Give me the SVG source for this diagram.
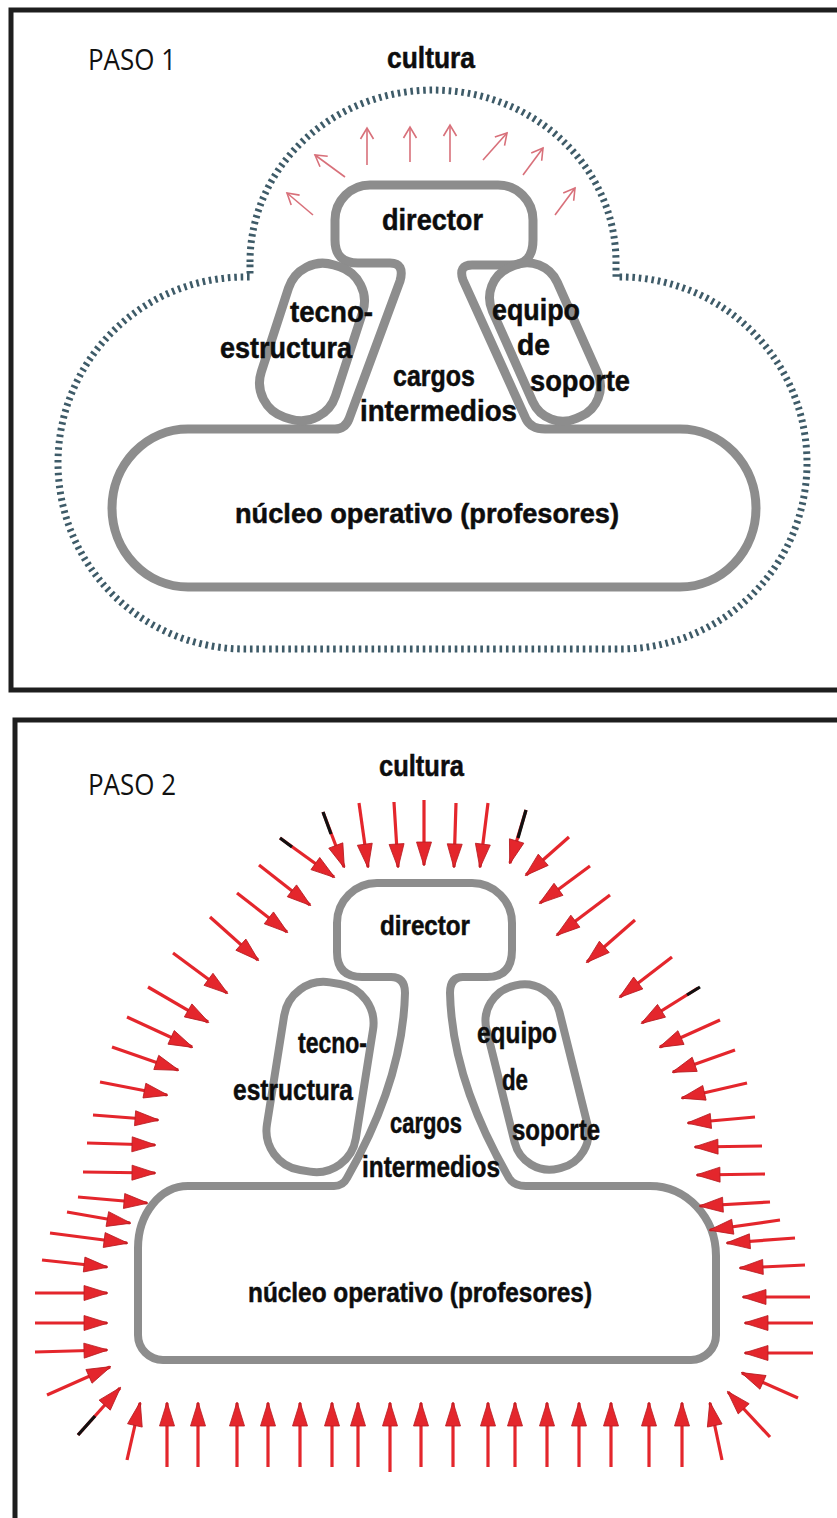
<svg xmlns="http://www.w3.org/2000/svg" width="837" height="1518" viewBox="0 0 837 1518">
<defs>
<style>
.frame{fill:none;stroke:#1e1e1e;stroke-width:5}
.shape{fill:none;stroke:#8d8d8d;stroke-width:9;stroke-linejoin:round}
.shape2{fill:none;stroke:#8d8d8d;stroke-width:8;stroke-linejoin:round}
.cloud{fill:none;stroke:#3e5b68;stroke-width:7;stroke-dasharray:2.6 3.8}
.lbl{font-family:"Liberation Sans",Arial,sans-serif;font-weight:700;fill:#0d0d0d;stroke:#0d0d0d;stroke-width:0.5}
.paso{font-family:"Open Sans","Liberation Sans",Arial,sans-serif;font-weight:400;fill:#111}
.a1{stroke:#d8707a;stroke-width:1.6;fill:none;marker-end:url(#open)}
.a2{stroke:#e4262c;stroke-width:3.2;fill:none;marker-end:url(#solid)}
.tail{stroke:#111;stroke-width:3.2;fill:none}
</style>
<marker id="open" markerUnits="userSpaceOnUse" markerWidth="14" markerHeight="16" viewBox="0 0 14 16" refX="12" refY="8" orient="auto">
<path d="M1,1.5 L12,8 L1,14.5" fill="none" stroke="#d8707a" stroke-width="1.6"/>
</marker>
<marker id="solid" markerUnits="userSpaceOnUse" markerWidth="26" markerHeight="18" viewBox="0 0 26 18" refX="24" refY="9" orient="auto">
<path d="M1,1.5 L25,9 L1,16.5 Z" fill="#e4262c" stroke="#b71c22" stroke-width="0.8"/>
</marker>
</defs>
<rect width="837" height="1518" fill="#ffffff"/>

<!-- PASO 1 -->
<g id="panel1">
<rect class="frame" x="11" y="10" width="840" height="680"/>
<text class="paso" x="88" y="70" font-size="30" textLength="88" lengthAdjust="spacingAndGlyphs">PASO 1</text>
</g>
<g id="p1-cultura">
<path class="cloud" d="M250,262 A183,172 0 0 1 616,262 V277 A187,186 0 0 1 807,463 A187,186 0 0 1 620,649 H245 A187,186 0 0 1 58,463 A187,186 0 0 1 245,277 H250 Z"/>
<text class="lbl" x="387" y="68" font-size="30" textLength="88" lengthAdjust="spacingAndGlyphs">cultura</text>
</g>
<g id="p1-core">
<path class="shape" d="M370,185 H498 A35,35 0 0 1 533,220 V240 Q533,265 510,265 H472 Q458,265 463,280 L526,419 Q531,429 545,429 H680 A76,79 0 0 1 680,587 H188 A76,79 0 0 1 188,429 H335 Q345,429 349,419 L400,281 Q405,263 390,263 H358 Q335,263 335,240 V220 A35,35 0 0 1 370,185 Z"/>
</g>
<g id="p1-director">
<text class="lbl" x="382" y="230" font-size="30" textLength="101" lengthAdjust="spacingAndGlyphs">director</text>
</g>
<g id="p1-tecno">
<rect class="shape" x="273" y="262" width="78" height="160" rx="36" transform="rotate(18 312 342)"/>
<text class="lbl" x="290" y="322" font-size="30" textLength="83" lengthAdjust="spacingAndGlyphs">tecno-</text>
<text class="lbl" x="220" y="358" font-size="30" textLength="132" lengthAdjust="spacingAndGlyphs">estructura</text>
</g>
<g id="p1-equipo">
<rect class="shape" x="509.5" y="259.5" width="71" height="165" rx="33" transform="rotate(-24 545 342)"/>
<text class="lbl" x="492" y="320" font-size="30" textLength="88" lengthAdjust="spacingAndGlyphs">equipo</text>
<text class="lbl" x="517" y="355" font-size="30" textLength="33" lengthAdjust="spacingAndGlyphs">de</text>
<text class="lbl" x="530" y="391" font-size="30" textLength="100" lengthAdjust="spacingAndGlyphs">soporte</text>
</g>
<g id="p1-cargos">
<text class="lbl" x="393" y="386" font-size="30" textLength="82" lengthAdjust="spacingAndGlyphs">cargos</text>
<text class="lbl" x="360" y="421" font-size="30" textLength="157" lengthAdjust="spacingAndGlyphs">intermedios</text>
</g>
<g id="p1-nucleo">
<text class="lbl" x="235" y="523" font-size="28" textLength="384" lengthAdjust="spacingAndGlyphs">núcleo operativo (profesores)</text>
</g>

<!-- PASO 2 -->
<g id="panel2">
<rect class="frame" x="15" y="720" width="840" height="820"/>
<text class="paso" x="88" y="795" font-size="30" textLength="88" lengthAdjust="spacingAndGlyphs">PASO 2</text>
</g>
<g id="p2-cultura">
<text class="lbl" x="379" y="776" font-size="29" textLength="85" lengthAdjust="spacingAndGlyphs">cultura</text>
</g>
<g id="p2-core">
<path class="shape2" d="M377,883 H472 A40,40 0 0 1 512,923 V950 Q512,977 487,977 H463 Q450,977 450,993 Q452,1080 509,1178 Q514,1186 526,1186 H650 A66,70 0 0 1 716,1256 V1335 A25,25 0 0 1 691,1360 H163 A25,25 0 0 1 138,1335 V1248 A50,62 0 0 1 188,1186 H334 Q343,1186 347,1178 Q403,1080 405,993 Q405,977 391,977 H362 Q337,977 337,952 V923 A40,40 0 0 1 377,883 Z"/>
</g>
<g id="p2-director">
<text class="lbl" x="380" y="935" font-size="28" textLength="90" lengthAdjust="spacingAndGlyphs">director</text>
</g>
<g id="p2-tecno">
<rect class="shape2" x="275" y="982" width="90" height="190" rx="40" transform="rotate(9 320 1077)"/>
<text class="lbl" x="298" y="1053" font-size="29" textLength="69" lengthAdjust="spacingAndGlyphs">tecno-</text>
<text class="lbl" x="233" y="1100" font-size="29" textLength="120" lengthAdjust="spacingAndGlyphs">estructura</text>
</g>
<g id="p2-equipo">
<rect class="shape2" x="499.5" y="983" width="75" height="188" rx="36" transform="rotate(-14 537 1077)"/>
<text class="lbl" x="477" y="1043" font-size="29" textLength="80" lengthAdjust="spacingAndGlyphs">equipo</text>
<text class="lbl" x="502" y="1090" font-size="29" textLength="26" lengthAdjust="spacingAndGlyphs">de</text>
<text class="lbl" x="512" y="1140" font-size="29" textLength="88" lengthAdjust="spacingAndGlyphs">soporte</text>
</g>
<g id="p2-cargos">
<text class="lbl" x="390" y="1133" font-size="29" textLength="72" lengthAdjust="spacingAndGlyphs">cargos</text>
<text class="lbl" x="362" y="1177" font-size="29" textLength="138" lengthAdjust="spacingAndGlyphs">intermedios</text>
</g>
<g id="p2-nucleo">
<text class="lbl" x="248" y="1302" font-size="27" textLength="344" lengthAdjust="spacingAndGlyphs">núcleo operativo (profesores)</text>
</g>

<g id="connectors">
<g id="arrows-paso1">
<line class="a1" x1="313" y1="215" x2="287" y2="193"/>
<line class="a1" x1="345" y1="177" x2="315" y2="155"/>
<line class="a1" x1="367" y1="165" x2="367" y2="128"/>
<line class="a1" x1="410" y1="162" x2="410" y2="127"/>
<line class="a1" x1="450" y1="162" x2="450" y2="125"/>
<line class="a1" x1="483" y1="160" x2="507" y2="133"/>
<line class="a1" x1="523" y1="175" x2="543" y2="148"/>
<line class="a1" x1="555" y1="215" x2="575" y2="188"/>
</g>
<g id="arrows-paso2">
<line class="a2" x1="323" y1="812" x2="344" y2="867"/>
<line class="a2" x1="359" y1="803" x2="368" y2="867"/>
<line class="a2" x1="394" y1="802" x2="398" y2="867"/>
<line class="a2" x1="424" y1="800" x2="424" y2="865"/>
<line class="a2" x1="456" y1="803" x2="454" y2="867"/>
<line class="a2" x1="488" y1="803" x2="480" y2="867"/>
<line class="a2" x1="526" y1="810" x2="510" y2="863"/>
<line class="a2" x1="280" y1="838" x2="334" y2="877"/>
<line class="a2" x1="259" y1="865" x2="310" y2="905"/>
<line class="a2" x1="237" y1="893" x2="287" y2="932"/>
<line class="a2" x1="210" y1="917" x2="258" y2="960"/>
<line class="a2" x1="173" y1="953" x2="227" y2="993"/>
<line class="a2" x1="148" y1="987" x2="208" y2="1022"/>
<line class="a2" x1="127" y1="1017" x2="192" y2="1047"/>
<line class="a2" x1="112" y1="1047" x2="178" y2="1070"/>
<line class="a2" x1="100" y1="1082" x2="167" y2="1095"/>
<line class="a2" x1="93" y1="1115" x2="158" y2="1120"/>
<line class="a2" x1="87" y1="1143" x2="155" y2="1145"/>
<line class="a2" x1="83" y1="1172" x2="155" y2="1173"/>
<line class="a2" x1="78" y1="1197" x2="147" y2="1203"/>
<line class="a2" x1="67" y1="1212" x2="130" y2="1223"/>
<line class="a2" x1="50" y1="1233" x2="127" y2="1243"/>
<line class="a2" x1="42" y1="1260" x2="107" y2="1267"/>
<line class="a2" x1="35" y1="1293" x2="107" y2="1293"/>
<line class="a2" x1="35" y1="1323" x2="107" y2="1323"/>
<line class="a2" x1="35" y1="1352" x2="107" y2="1350"/>
<line class="a2" x1="47" y1="1395" x2="110" y2="1367"/>
<line class="a2" x1="78" y1="1435" x2="120" y2="1388"/>
<line class="a2" x1="569" y1="837" x2="526" y2="875"/>
<line class="a2" x1="590" y1="866" x2="540" y2="903"/>
<line class="a2" x1="610" y1="895" x2="557" y2="935"/>
<line class="a2" x1="635" y1="920" x2="587" y2="962"/>
<line class="a2" x1="672" y1="957" x2="620" y2="997"/>
<line class="a2" x1="698" y1="988" x2="642" y2="1023"/>
<line class="a2" x1="720" y1="1020" x2="660" y2="1047"/>
<line class="a2" x1="735" y1="1050" x2="673" y2="1072"/>
<line class="a2" x1="747" y1="1083" x2="682" y2="1098"/>
<line class="a2" x1="755" y1="1117" x2="688" y2="1123"/>
<line class="a2" x1="762" y1="1146" x2="695" y2="1147"/>
<line class="a2" x1="765" y1="1174" x2="697" y2="1175"/>
<line class="a2" x1="770" y1="1202" x2="700" y2="1206"/>
<line class="a2" x1="780" y1="1220" x2="710" y2="1230"/>
<line class="a2" x1="795" y1="1238" x2="727" y2="1243"/>
<line class="a2" x1="805" y1="1265" x2="740" y2="1268"/>
<line class="a2" x1="810" y1="1297" x2="743" y2="1297"/>
<line class="a2" x1="813" y1="1323" x2="745" y2="1323"/>
<line class="a2" x1="813" y1="1353" x2="745" y2="1353"/>
<line class="a2" x1="798" y1="1398" x2="742" y2="1373"/>
<line class="a2" x1="770" y1="1437" x2="728" y2="1392"/>
<line class="a2" x1="127" y1="1460" x2="140" y2="1403"/>
<line class="a2" x1="167" y1="1467" x2="167" y2="1403"/>
<line class="a2" x1="198" y1="1467" x2="198" y2="1403"/>
<line class="a2" x1="237" y1="1467" x2="237" y2="1403"/>
<line class="a2" x1="268" y1="1467" x2="268" y2="1403"/>
<line class="a2" x1="300" y1="1467" x2="300" y2="1403"/>
<line class="a2" x1="332" y1="1467" x2="332" y2="1403"/>
<line class="a2" x1="358" y1="1467" x2="358" y2="1403"/>
<line class="a2" x1="390" y1="1472" x2="390" y2="1403"/>
<line class="a2" x1="421" y1="1467" x2="421" y2="1403"/>
<line class="a2" x1="453" y1="1467" x2="453" y2="1403"/>
<line class="a2" x1="488" y1="1467" x2="488" y2="1403"/>
<line class="a2" x1="515" y1="1467" x2="515" y2="1403"/>
<line class="a2" x1="547" y1="1467" x2="547" y2="1403"/>
<line class="a2" x1="579" y1="1467" x2="579" y2="1403"/>
<line class="a2" x1="611" y1="1467" x2="611" y2="1403"/>
<line class="a2" x1="649" y1="1467" x2="649" y2="1403"/>
<line class="a2" x1="682" y1="1467" x2="682" y2="1403"/>
<line class="a2" x1="722" y1="1460" x2="710" y2="1403"/>
<line class="tail" x1="323" y1="812" x2="331" y2="834"/>
<line class="tail" x1="526" y1="810" x2="518" y2="838"/>
<line class="tail" x1="280" y1="838" x2="292" y2="847"/>
<line class="tail" x1="700" y1="987" x2="687" y2="995"/>
<line class="tail" x1="78" y1="1435" x2="95" y2="1416"/>
</g>
</g>
</svg>
